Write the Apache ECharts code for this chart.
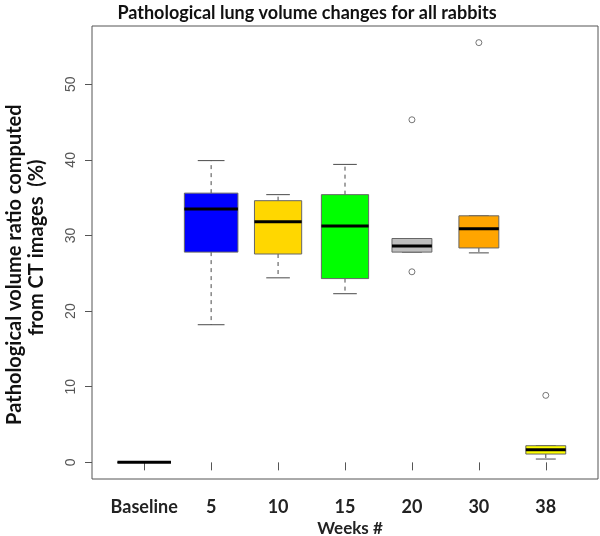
<!DOCTYPE html>
<html>
<head>
<meta charset="utf-8">
<script src="https://cdn.jsdelivr.net/npm/echarts@6/dist/echarts.min.js"></script>
<style>html,body{margin:0;padding:0;background:#fff}#c{width:600px;height:536px}</style>
</head>
<body>
<div id="c"></div>
<script>
// ---- data ----
var categories = ['Baseline', '5', '10', '15', '20', '30', '38'];
var whiskerLow  = [0, 18.2, 24.4, 22.3, 27.8, 27.7, 0.44];
var q1          = [0, 27.8, 27.55, 24.3, 27.8, 28.35, 1.1];
var median      = [0, 33.5, 31.8, 31.25, 28.6, 30.9, 1.67];
var q3          = [0, 35.6, 34.6, 35.4, 29.6, 32.6, 2.2];
var whiskerHigh = [0, 39.9, 35.4, 39.4, 29.6, 32.6, 2.2];
var sampleSizes = [9, 9, 7, 7, 5, 5, 5];
var outlierGroup = [4, 4, 5, 6];
var outlierValue = [45.3, 25.2, 55.5, 8.86];
var yTicks = [0, 10, 20, 30, 40, 50];
var boxColors = ['#000000', '#0000FF', '#FFD700', '#00FF00', '#BEBEBE', '#FFA500', '#FFFF00'];

var maxN = Math.max.apply(null, sampleSizes);
var boxData = categories.map(function (c, i) {
  return [i + 1, whiskerLow[i], q1[i], median[i], q3[i], whiskerHigh[i], sampleSizes[i]];
});
var outlierData = outlierGroup.map(function (g, i) { return [g + 1, outlierValue[i]]; });

var chart = echarts.init(document.getElementById('c'), null, {renderer: 'canvas'});
var font = 'Lato, "Open Sans", sans-serif';

function renderBox(params, api) {
  var x = api.value(0);
  var lo = api.value(1), a = api.value(2), m = api.value(3), b = api.value(4), hi = api.value(5), n = api.value(6);
  var unit = api.size([1, 0])[0];
  var w = unit * 0.8 * Math.sqrt(n / maxN);
  var cx = api.coord([x, 0])[0];
  var yLo = api.coord([x, lo])[1], yA = api.coord([x, a])[1], yM = api.coord([x, m])[1],
      yB = api.coord([x, b])[1], yHi = api.coord([x, hi])[1];
  var stroke = '#4a4a4a';
  var children = [];
  if (yHi < yB) children.push({type: 'line', shape: {x1: cx, y1: yB, x2: cx, y2: yHi}, style: {stroke: stroke, lineWidth: 1, lineDash: [4, 4]}});
  if (yLo > yA) children.push({type: 'line', shape: {x1: cx, y1: yA, x2: cx, y2: yLo}, style: {stroke: stroke, lineWidth: 1, lineDash: [4, 4]}});
  children.push({type: 'line', shape: {x1: cx - w / 4, y1: yHi, x2: cx + w / 4, y2: yHi}, style: {stroke: stroke, lineWidth: 1}});
  children.push({type: 'line', shape: {x1: cx - w / 4, y1: yLo, x2: cx + w / 4, y2: yLo}, style: {stroke: stroke, lineWidth: 1}});
  children.push({type: 'rect', shape: {x: cx - w / 2, y: yB, width: w, height: yA - yB}, style: {fill: boxColors[params.dataIndex], stroke: '#666', lineWidth: 1}});
  children.push({type: 'line', shape: {x1: cx - w / 2, y1: yM, x2: cx + w / 2, y2: yM}, style: {stroke: '#000', lineWidth: 3}});
  return {type: 'group', children: children};
}

chart.setOption({
  animation: false,
  backgroundColor: '#fff',
  title: [{
    text: 'Pathological lung volume changes for all rabbits',
    left: 302, top: -1, textAlign: 'center',
    textStyle: {fontFamily: font, fontWeight: 'bold', fontSize: 18, color: '#111'}
  }, {
    text: 'Weeks #',
    left: 345, top: 515, textAlign: 'center',
    textStyle: {fontFamily: font, fontWeight: 'bold', fontSize: 17, color: '#222'}
  }],
  grid: {left: 92, right: 2, top: 26, bottom: 57, show: true, borderColor: '#555', borderWidth: 1,
         backgroundColor: 'transparent', containLabel: false, outerBoundsMode: 'none'},
  xAxis: {
    type: 'value', min: 0.22, max: 7.78,
    axisLine: {show: false},
    splitLine: {show: false},
    axisTick: {show: true, length: 8, inside: false, customValues: [1, 2, 3, 4, 5, 6, 7], lineStyle: {color: '#555'}},
    axisLabel: {
      customValues: [1, 2, 3, 4, 5, 6, 7], margin: 19,
      fontFamily: font, fontWeight: 'bold', fontSize: 18, color: '#222',
      formatter: function (v) { return categories[Math.round(v) - 1]; }
    }
  },
  yAxis: {
    type: 'value', min: -2.2, max: 57.7,
    name: 'Pathological volume ratio computed     \n  from CT images  (%)',
    nameLocation: 'middle', nameGap: 44, nameRotate: 90, nameMoveOverlap: false,
    nameTextStyle: {fontFamily: font, fontWeight: 'bold', fontSize: 20, color: '#111', lineHeight: 22, align: 'center'},
    axisLine: {show: false},
    splitLine: {show: false},
    axisTick: {show: true, length: 7, customValues: yTicks, lineStyle: {color: '#555'}},
    axisLabel: {customValues: yTicks, rotate: 90, margin: 14, fontFamily: '"Liberation Sans", Arial, sans-serif', fontSize: 14, color: '#555'}
  },
  series: [
    {type: 'custom', renderItem: renderBox, data: boxData, encode: {x: 0, y: [1, 2, 3, 4, 5]}, z: 2},
    {type: 'scatter', data: outlierData, symbol: 'circle', symbolSize: 6,
     itemStyle: {color: '#ffffff', borderColor: '#555', borderWidth: 1}, z: 3}
  ]
});
</script>
</body>
</html>
